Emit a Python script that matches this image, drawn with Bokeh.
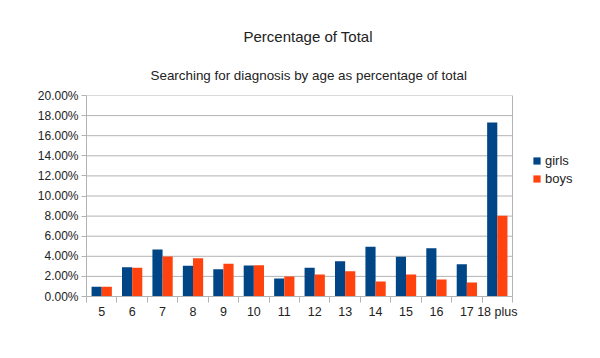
from bokeh.plotting import figure
from bokeh.models import (ColumnDataSource, FixedTicker, NumeralTickFormatter, Legend,
                          LegendItem, Title, Range1d)
from bokeh.embed import file_html
from bokeh.resources import INLINE

ages = ["5", "6", "7", "8", "9", "10", "11", "12", "13", "14", "15", "16", "17", "18 plus"]
girls = [0.96, 2.90, 4.68, 3.05, 2.72, 3.08, 1.79, 2.85, 3.51, 4.94, 3.95, 4.81, 3.21, 17.31]
boys = [0.96, 2.85, 3.98, 3.81, 3.25, 3.10, 1.99, 2.19, 2.52, 1.49, 2.19, 1.69, 1.39, 8.03]
y_ticks = [0, 2, 4, 6, 8, 10, 12, 14, 16, 18, 20]

GIRL_COL = "#004586"
BOY_COL = "#ff420e"
GRID = "#b3b3b3"
FONT = "Liberation Sans"

W, H = 584, 342
LEFT, RIGHT_PLOT, TOP, BOTTOM = 86, 512, 95, 296  # plot-wall edges in pixels

n = len(ages)
cat_px = (RIGHT_PLOT - LEFT) / n
x_end = (W - LEFT) / cat_px  # frame extends under legend area

centers = [i + 0.5 for i in range(n)]
bw = 1.0 / 3.0
src = ColumnDataSource(dict(
    xg=[c - bw / 2 for c in centers],
    xb=[c + bw / 2 for c in centers],
    girls=[v / 100 for v in girls],
    boys=[v / 100 for v in boys],
))

p = figure(width=W, height=H, output_backend="svg", toolbar_location=None,
           x_range=Range1d(0, x_end), y_range=Range1d(0, 0.2),
           min_border_left=LEFT, min_border_right=0, min_border_bottom=H - BOTTOM,
           min_border_top=TOP)

p.title.text = ""
sub = Title(text="Searching for diagnosis by age as percentage of total", align="left",
            text_font=FONT, text_font_size="13.4px", text_font_style="normal",
            text_color="#222222", offset=64, standoff=26)
main = Title(text="Percentage of Total", align="left",
             text_font=FONT, text_font_size="15px", text_font_style="normal",
             text_color="#222222", offset=157, standoff=16)
p.add_layout(sub, "above")
p.add_layout(main, "above")

# grid lines and right wall border limited to the plot wall
gt = [t / 100 for t in y_ticks]
p.segment(x0=[0] * len(gt), x1=[n] * len(gt), y0=gt, y1=gt,
          line_color=GRID, line_width=1, level="underlay")
p.segment(x0=[n], x1=[n], y0=[0], y1=[gt[-1]], line_color=GRID, line_width=1, level="underlay")

rg = p.vbar(x="xg", top="girls", width=bw, bottom=0, source=src, fill_color=GIRL_COL, line_color=None)
rb = p.vbar(x="xb", top="boys", width=bw, bottom=0, source=src, fill_color=BOY_COL, line_color=None)

# y axis
p.yaxis.ticker = FixedTicker(ticks=gt)
p.yaxis.formatter = NumeralTickFormatter(format="0.00%")
p.yaxis.major_label_text_font = FONT
p.yaxis.major_label_text_font_size = "12px"
p.yaxis.major_label_text_color = "#222222"
p.yaxis.axis_line_color = GRID
p.yaxis.major_tick_line_color = GRID
p.yaxis.major_tick_in = 0
p.yaxis.major_tick_out = 5
p.yaxis.minor_tick_line_color = None
p.yaxis.major_label_standoff = 3

# x axis: labels at centers, tick marks between categories
p.xaxis.bounds = (0, n)
p.xaxis.ticker = FixedTicker(ticks=centers, minor_ticks=list(range(n + 1)))
p.xaxis.major_label_overrides = {c: a for c, a in zip(centers, ages)}
p.xaxis.major_label_text_font = FONT
p.xaxis.major_label_text_font_size = "12.5px"
p.xaxis.major_label_text_color = "#222222"
p.xaxis.axis_line_color = GRID
p.xaxis.major_tick_line_color = None
p.xaxis.minor_tick_line_color = GRID
p.xaxis.minor_tick_in = 0
p.xaxis.minor_tick_out = 6
p.xaxis.major_label_standoff = 2

p.xgrid.grid_line_color = None
p.ygrid.grid_line_color = None
p.outline_line_color = None

legend = Legend(items=[LegendItem(label="girls", renderers=[rg]),
                       LegendItem(label="boys", renderers=[rb])],
                location=(446, 109), orientation="vertical", margin=0,
                label_text_font=FONT, label_text_font_size="13px", label_text_color="#222222",
                glyph_width=9, glyph_height=9, label_height=18, spacing=0, padding=0,
                label_standoff=4, background_fill_alpha=0, border_line_color=None)
p.add_layout(legend, "center")

open("out.html", "w").write(file_html(p, INLINE))
